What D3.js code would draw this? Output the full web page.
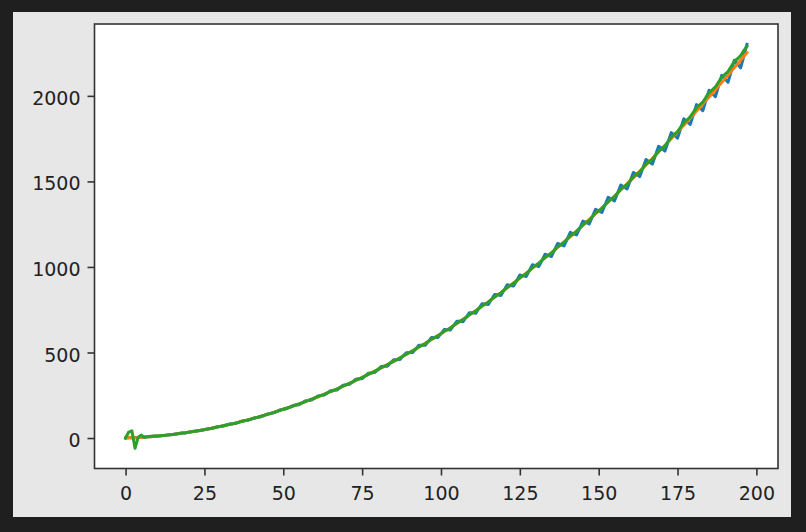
<!DOCTYPE html>
<html>
<head>
<meta charset="utf-8">
<script src="https://cdn.jsdelivr.net/npm/d3@7/dist/d3.min.js"></script>
<style>
  html, body { margin: 0; padding: 0; background: #1f1f1f; }
  svg { display: block; }
</style>
</head>
<body>
<svg id="chart" width="806" height="532"></svg>
<script>
// ---- data ----
const xTicks = [0, 25, 50, 75, 100, 125, 150, 175, 200];
const yTicks = [0, 500, 1000, 1500, 2000];

const observed = [
0,1,1,2,3,4,6,7,8,10,
12,13,15,17,19,21,24,27,29,30,
34,38,40,42,46,50,53,55,60,65,
68,70,76,82,84,86,93,100,102,105,
112,119,122,125,133,141,144,147,156,165,
168,171,180,190,193,195,206,217,220,222,
234,246,249,251,264,276,279,281,295,309,
312,314,328,344,346,347,363,379,381,383,
400,418,419,420,439,457,458,459,479,499,
500,500,521,543,542,542,565,588,587,587,
610,634,633,632,657,682,682,680,706,733,
732,729,757,785,783,780,810,839,837,833,
864,896,892,888,920,953,949,944,978,1013,
1008,1003,1038,1074,1068,1061,1099,1137,1130,1123,
1162,1202,1194,1187,1227,1268,1260,1251,1294,1337,
1328,1318,1362,1407,1397,1386,1432,1479,1468,1456,
1504,1552,1541,1528,1578,1628,1615,1601,1653,1705,
1692,1677,1730,1785,1770,1753,1809,1866,1849,1833,
1890,1949,1931,1913,1973,2033,2014,1995,2057,2120,
2100,2079,2143,2208,2186,2164,2231,2302
];

const trend = [
0,1,1,2,3,4,6,7,8,10,
12,13,15,17,19,21,24,26,29,31,
34,37,40,43,46,49,53,56,60,64,
68,72,76,80,84,88,93,98,102,107,
112,117,122,128,133,138,144,150,156,162,
168,174,180,186,193,199,206,213,220,227,
234,241,249,256,264,271,279,287,295,303,
312,320,328,337,346,354,363,372,381,391,
400,410,419,429,439,448,458,469,479,489,
500,510,521,532,542,553,565,576,587,599,
610,622,633,645,657,669,682,694,706,719,
732,744,757,770,783,796,810,823,837,850,
864,878,892,906,920,934,949,963,978,993,
1008,1023,1038,1053,1068,1083,1099,1115,1130,1146,
1162,1178,1194,1211,1227,1243,1260,1277,1294,1311,
1328,1345,1362,1379,1397,1414,1432,1450,1468,1486,
1504,1522,1541,1559,1578,1596,1615,1634,1653,1672,
1692,1711,1730,1750,1770,1789,1809,1829,1849,1870,
1890,1911,1931,1952,1973,1993,2014,2036,2057,2078,
2100,2121,2143,2165,2186,2208,2231,2253
];

const predicted = [
0,35,42,-60,5,17,3,8,10,12,
11,13,15,17,19,21,24,26,29,31,
34,37,40,43,46,49,53,56,60,64,
68,72,76,80,84,88,93,98,102,107,
112,117,122,128,133,138,144,150,156,162,
168,174,180,186,193,199,206,213,220,227,
234,242,249,255,264,272,279,286,295,304,
312,319,328,338,346,353,363,373,381,390,
400,411,419,428,439,449,458,468,479,490,
500,509,521,533,542,552,565,578,587,597,
610,624,633,643,657,671,682,692,706,721,
732,742,757,772,783,794,810,825,837,848,
864,880,892,904,920,937,949,960,978,996,
1008,1020,1038,1056,1068,1080,1099,1118,1130,1143,
1162,1181,1194,1208,1227,1247,1260,1273,1294,1315,
1328,1341,1362,1383,1397,1410,1432,1454,1468,1482,
1504,1526,1541,1555,1578,1601,1615,1629,1653,1677,
1692,1706,1733,1759,1775,1791,1817,1843,1859,1877,
1903,1930,1947,1963,1991,2019,2035,2052,2080,2109,
2126,2142,2172,2201,2217,2235,2265,2290
];

const seriesList = [
  { name: "observed", values: observed, color: "#1f77b4" },
  { name: "trend", values: trend, color: "#ff7f0e" },
  { name: "predicted", values: predicted, color: "#2ca02c" }
];

// ---- layout ----
const svg = d3.select("#chart");
const W = 806, H = 532;
const panel = { x: 13, y: 12, w: 778, h: 505 };
const plot = { left: 94.5, right: 778, top: 24, bottom: 468.5 };

svg.append("rect").attr("x", 0).attr("y", 0).attr("width", W).attr("height", H).attr("fill", "#1f1f1f");
svg.append("rect").attr("x", panel.x).attr("y", panel.y).attr("width", panel.w).attr("height", panel.h)
  .attr("fill", "#e7e7e7");
svg.append("rect").attr("x", plot.left).attr("y", plot.top)
  .attr("width", plot.right - plot.left).attr("height", plot.bottom - plot.top).attr("fill", "#ffffff");

// matplotlib-like 5% margins
const n = observed.length;
const xMin = 0, xMax = n - 1;
const allY = observed.concat(trend, predicted);
const yMin = d3.min(allY), yMax = d3.max(allY);
const xPad = (xMax - xMin) * 0.05, yPad = (yMax - yMin) * 0.05;

const x = d3.scaleLinear().domain([xMin - xPad, xMax + xPad]).range([plot.left, plot.right]);
const y = d3.scaleLinear().domain([yMin - yPad, yMax + yPad]).range([plot.bottom, plot.top]);

// ---- lines ----
svg.append("clipPath").attr("id", "clip").append("rect")
  .attr("x", plot.left).attr("y", plot.top)
  .attr("width", plot.right - plot.left).attr("height", plot.bottom - plot.top);

const line = d3.line().x((d, i) => x(i)).y(d => y(d));
const g = svg.append("g").attr("clip-path", "url(#clip)");
seriesList.forEach(s => {
  g.append("path")
    .datum(s.values)
    .attr("d", line)
    .attr("fill", "none")
    .attr("stroke", s.color)
    .attr("stroke-width", 3)
    .attr("stroke-linejoin", "round")
    .attr("stroke-linecap", "square");
});

// ---- axes ----
const fontFam = "'DejaVu Sans', sans-serif";
const xAxis = d3.axisBottom(x).tickValues(xTicks).tickSize(7).tickPadding(11).tickFormat(d3.format("d"));
const yAxis = d3.axisLeft(y).tickValues(yTicks).tickSize(7).tickPadding(7).tickFormat(d3.format("d"));

const gx = svg.append("g").attr("transform", `translate(0,${plot.bottom})`).call(xAxis);
const gy = svg.append("g").attr("transform", `translate(${plot.left},0)`).call(yAxis);
[gx, gy].forEach(ax => {
  ax.select(".domain").remove();
  ax.selectAll(".tick line").attr("stroke", "#333").attr("stroke-width", 1.6);
  ax.selectAll(".tick text").attr("fill", "#222").attr("font-size", 19).attr("font-family", fontFam);
});
gy.selectAll(".tick text").attr("dy", "0.45em");

// ---- spines ----
svg.append("rect").attr("x", plot.left).attr("y", plot.top)
  .attr("width", plot.right - plot.left).attr("height", plot.bottom - plot.top)
  .attr("fill", "none").attr("stroke", "#333").attr("stroke-width", 1.6);
</script>
</body>
</html>
